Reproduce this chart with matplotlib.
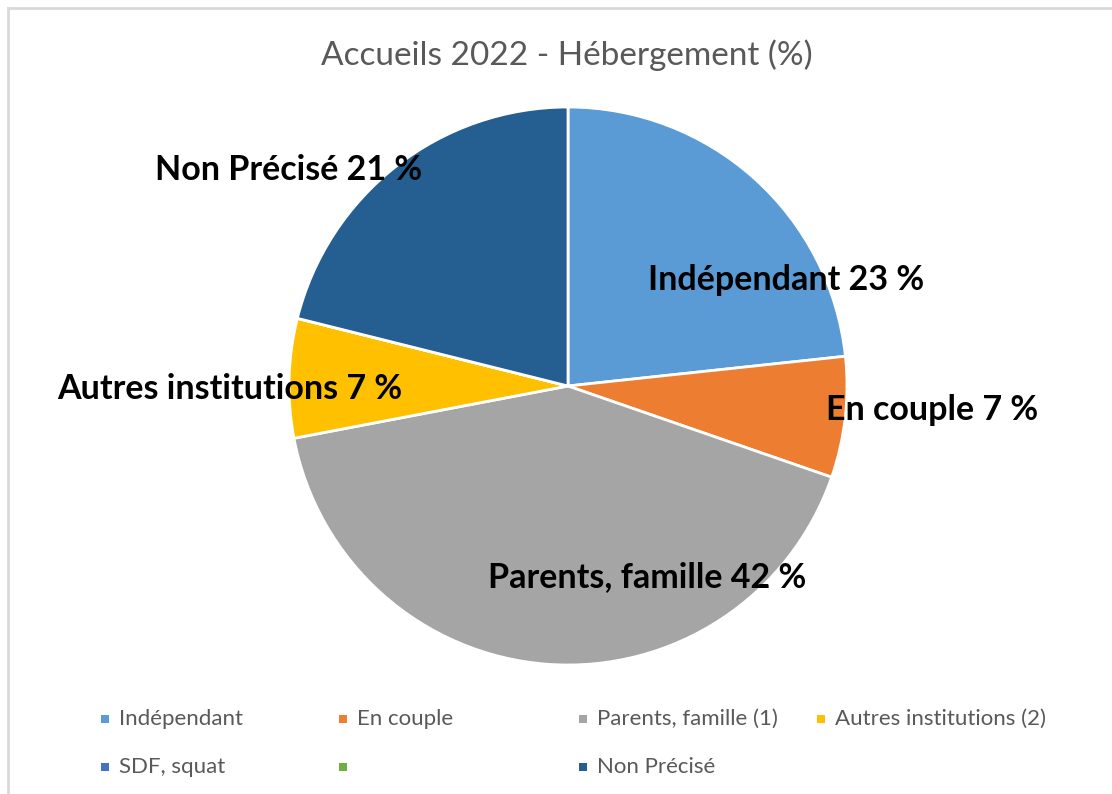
import matplotlib.pyplot as plt
from matplotlib.patches import Rectangle
from matplotlib.lines import Line2D

plt.rcParams['font.family'] = ['Lato', 'DejaVu Sans']

categories = ['Indépendant', 'En couple', 'Parents, famille (1)', 'Autres institutions (2)',
              'SDF, squat', '', 'Non Précisé']
label_names = ['Indépendant', 'En couple', 'Parents, famille', 'Autres institutions',
               'SDF, squat', '', 'Non Précisé']
values = [23.3, 7.0, 41.7, 6.9, 0.0, 0.0, 21.1]
colors = ['#5B9BD5', '#ED7D31', '#A5A5A5', '#FFC000', '#4472C4', '#70AD47', '#255E91']

# where Excel dropped the data labels (pie radius units)
label_pos = [(0.78, 0.38), (1.305, -0.086), (0.283, -0.685), (-1.211, -0.011),
             None, None, (-1.0, 0.774)]

fig = plt.figure(figsize=(11.12, 7.94), dpi=100)
ax = fig.add_axes([289 / 1112, 1 - 665 / 794, 558 / 1112, 558 / 794])

wedges, _ = ax.pie(values, colors=colors, startangle=90, counterclock=False,
                   wedgeprops={'edgecolor': 'white', 'linewidth': 2})
ax.set_xlim(-1, 1)
ax.set_ylim(-1, 1)
ax.set_aspect('equal')

for name, v, pos in zip(label_names, values, label_pos):
    if pos is None or v == 0:
        continue
    ax.text(pos[0], pos[1], '{} {:.0f} %'.format(name, v), ha='center', va='center',
            fontsize=24.5, fontweight='bold', color='black')

fig.text(567 / 1112, 1 - 55 / 794, 'Accueils 2022 - Hébergement (%)', ha='center',
         va='center', fontsize=24, color='#595959')

# legend, laid out row by row like Excel
col_x = [105, 343, 583, 821]
row_y = [719, 767]
for i, (name, c) in enumerate(zip(categories, colors)):
    x = col_x[i % 4]
    y = row_y[i // 4]
    fig.patches.append(Rectangle(((x - 4) / 1112, 1 - (y + 4) / 794), 8 / 1112, 8 / 794,
                                 transform=fig.transFigure, facecolor=c, edgecolor='none'))
    fig.text((x + 14) / 1112, 1 - y / 794, name, ha='left', va='center',
             fontsize=16, color='#595959')

# chart border (only top and left show in the crop)
fig.add_artist(Line2D([8 / 1112, 1], [1 - 8 / 794, 1 - 8 / 794], color='#D9D9D9', lw=2,
                      transform=fig.transFigure))
fig.add_artist(Line2D([8 / 1112, 8 / 1112], [0, 1 - 8 / 794], color='#D9D9D9', lw=2,
                      transform=fig.transFigure))

fig.savefig('out.png', dpi=100)
